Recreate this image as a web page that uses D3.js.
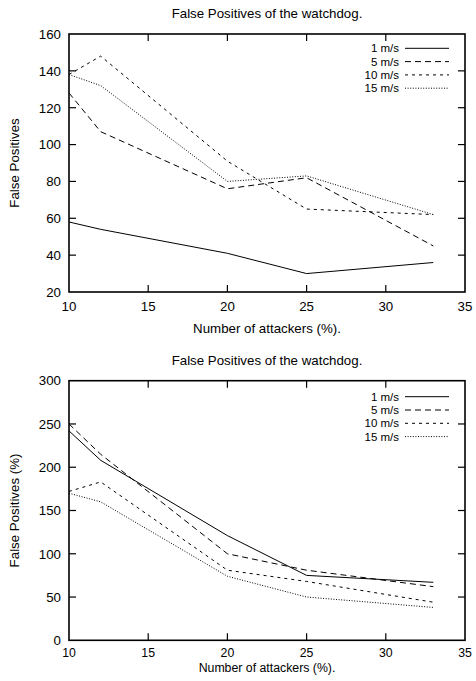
<!DOCTYPE html>
<html>
<head>
<meta charset="utf-8">
<script src="https://cdn.jsdelivr.net/npm/d3@7"></script>
<style>
  body { margin: 0; background: #fff; }
  svg { display: block; font-family: "Liberation Sans", Arial, sans-serif; }
  .frame { fill: none; stroke: #000; stroke-width: 1.6; }
  .tick-mark { stroke: #000; stroke-width: 1.2; }
  .series { fill: none; stroke: #000; stroke-width: 1; }
  text { fill: #000; font-size: 13.3px; }
  text.legend { font-size: 11.5px; }
</style>
</head>
<body>
<div id="chart"></div>
<script>
var width = 476, height = 681;

// shared x values (% attackers)
var attackers = [10, 12, 20, 25, 33];
var speeds = ["1 m/s", "5 m/s", "10 m/s", "15 m/s"];
var xTicks = [10, 15, 20, 25, 30, 35];

// top chart: false positives (count)
var fpCount1 = [58, 54, 41, 30, 36];
var fpCount5 = [128, 107, 76, 82, 45];
var fpCount10 = [138, 148, 91, 65, 62];
var fpCount15 = [138, 132, 80, 83, 62];
var yTicksTop = [20, 40, 60, 80, 100, 120, 140, 160];

// bottom chart: false positives (%)
var fpPct1 = [242, 208, 121, 75, 67];
var fpPct5 = [250, 215, 100, 81, 62];
var fpPct10 = [172, 183, 81, 68, 44];
var fpPct15 = [170, 160, 74, 50, 38];
var yTicksBottom = [0, 50, 100, 150, 200, 250, 300];

var dashes = [null, "6,4", "3,4", "1,1.6"];

var svg = d3.select("#chart").append("svg")
    .attr("width", width)
    .attr("height", height);

function drawPanel(opts) {
    var x = d3.scaleLinear().domain([10, 35]).range([69, 465]);
    var y = d3.scaleLinear().domain(opts.yDomain).range([opts.bottom, opts.top]);
    var g = svg.append("g");

    var line = d3.line()
        .x(function (d, i) { return x(attackers[i]); })
        .y(function (d) { return y(d); });

    opts.series.forEach(function (s, i) {
        g.append("path")
            .attr("class", "series")
            .attr("d", line(s))
            .attr("stroke-dasharray", dashes[i]);
    });

    // ticks on all four sides, pointing inward
    xTicks.forEach(function (t) {
        if (t === 10 || t === 35) return;
        g.append("line").attr("class", "tick-mark")
            .attr("x1", x(t)).attr("x2", x(t))
            .attr("y1", opts.bottom).attr("y2", opts.bottom - 7);
        g.append("line").attr("class", "tick-mark")
            .attr("x1", x(t)).attr("x2", x(t))
            .attr("y1", opts.top).attr("y2", opts.top + 7);
    });
    xTicks.forEach(function (t) {
        g.append("text")
            .attr("x", x(t))
            .attr("y", opts.bottom + opts.tickGap)
            .attr("dy", "0.36em")
            .attr("text-anchor", "middle")
            .style("font-size", opts.xFont + "px")
            .text(t);
    });
    opts.yTicks.forEach(function (t) {
        if (t !== opts.yDomain[0] && t !== opts.yDomain[1]) {
            g.append("line").attr("class", "tick-mark")
                .attr("x1", 69).attr("x2", 76)
                .attr("y1", y(t)).attr("y2", y(t));
            g.append("line").attr("class", "tick-mark")
                .attr("x1", 465).attr("x2", 458)
                .attr("y1", y(t)).attr("y2", y(t));
        }
        g.append("text")
            .attr("x", 61)
            .attr("y", y(t))
            .attr("dy", "0.36em")
            .attr("text-anchor", "end")
            .text(t);
    });

    g.append("rect").attr("class", "frame")
        .attr("x", 69).attr("y", opts.top)
        .attr("width", 465 - 69).attr("height", opts.bottom - opts.top);

    // legend
    speeds.forEach(function (name, i) {
        var ly = opts.legendY + i * 13.3;
        g.append("text")
            .attr("class", "legend")
            .attr("x", 399)
            .attr("y", ly)
            .attr("dy", "0.36em")
            .attr("text-anchor", "end")
            .text(name);
        g.append("line")
            .attr("class", "series")
            .attr("x1", 405).attr("x2", 449)
            .attr("y1", ly).attr("y2", ly)
            .attr("stroke-dasharray", dashes[i]);
    });

    g.append("text")
        .attr("x", 267)
        .attr("y", opts.top - 20.5)
        .attr("dy", "0.36em")
        .attr("text-anchor", "middle")
        .text("False Positives of the watchdog.");
    g.append("text")
        .attr("x", 267)
        .attr("y", opts.bottom + opts.labelGap)
        .attr("dy", "0.36em")
        .attr("text-anchor", "middle")
        .style("font-size", opts.xFont + "px")
        .text("Number of attackers (%).");
    g.append("text")
        .attr("transform", "translate(14," + ((opts.top + opts.bottom) / 2) + ")rotate(-90)")
        .attr("dy", "0.36em")
        .attr("text-anchor", "middle")
        .text(opts.yLabel);
}

drawPanel({
    top: 34, bottom: 292,
    yDomain: [20, 160], yTicks: yTicksTop,
    series: [fpCount1, fpCount5, fpCount10, fpCount15],
    legendY: 48.3, tickGap: 14.4, labelGap: 36, xFont: 13.3,
    yLabel: "False Positives"
});

drawPanel({
    top: 380.7, bottom: 640.3,
    yDomain: [0, 300], yTicks: yTicksBottom,
    series: [fpPct1, fpPct5, fpPct10, fpPct15],
    legendY: 396.7, tickGap: 12.6, labelGap: 27, xFont: 12.3,
    yLabel: "False Positives (%)"
});
</script>
</body>
</html>
